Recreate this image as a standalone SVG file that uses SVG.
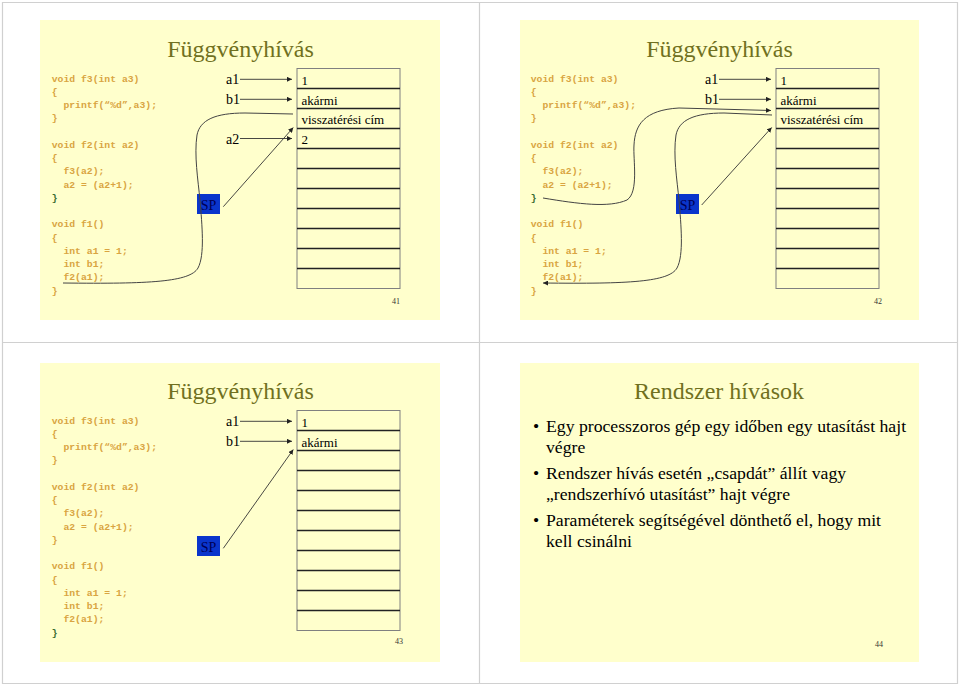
<svg xmlns="http://www.w3.org/2000/svg" width="960" height="684" viewBox="0 0 960 684">
<defs>
<style>
.panel{fill:#FFFFCC}
.frame{stroke:#D0D0D0;stroke-width:1.2;fill:none}
.title{font-size:24px;fill:#707020;text-anchor:middle}
.code{font-weight:bold;font-size:9.75px;fill:#D9A441}
.cg{fill:#3A6B2E}
.lbl{font-size:14px;fill:#000}
.cell{font-size:13px;fill:#000}
.outer{fill:none;stroke:#808080;stroke-width:1}
.row{stroke:#222;stroke-width:1.4}
.spbox{fill:#0A35CC}
.sptxt{font-size:14px;fill:#000055;text-anchor:middle}
.pg{font-size:8px;fill:#333;text-anchor:end}
.conn{fill:none;stroke:#333;stroke-width:0.9}
.curve{fill:none;stroke:#444;stroke-width:1}
.bul{font-size:17.7px;fill:#000}
</style>
<marker id="ah" viewBox="0 0 6 6" refX="6" refY="3" markerWidth="5" markerHeight="5" markerUnits="userSpaceOnUse" orient="auto">
<path d="M0,0 L6,3 L0,6 z" fill="#222"/>
</marker>
</defs>
<rect x="0" y="0" width="960" height="684" fill="#FFFFFF"/>
<g id="page-frame">
<path class="frame" d="M2.5,684 V2.5 H957.5 V684 M479.5,2.5 V684 M2.5,342.5 H957.5 M2.5,683.5 H957.5"/>
</g>

<g font-family="'Liberation Serif', 'Times New Roman', serif">
<!-- Slide 41 -->
<g id="slide41">
<rect class="panel" x="40" y="20" width="400" height="300"/>
<g id="s41-title"><text class="title" x="240.5" y="57">Függvényhívás</text></g>
<g id="s41-code" class="code" font-family="'Liberation Mono', 'Courier New', monospace">
<text x="51.7" y="81.5">void f3(int a3)</text>
<text x="51.7" y="94.75">{</text>
<text x="63.4" y="108">printf(“%d”,a3);</text>
<text x="51.7" y="121.25">}</text>
<text x="51.7" y="147.75">void f2(int a2)</text>
<text x="51.7" y="161">{</text>
<text x="63.4" y="174.25">f3(a2);</text>
<text x="63.4" y="187.5">a2 = (a2+1);</text>
<text x="51.7" y="200.75" class="cg">}</text>
<text x="51.7" y="227.25">void f1()</text>
<text x="51.7" y="240.5">{</text>
<text x="63.4" y="253.75">int a1 = 1;</text>
<text x="63.4" y="267">int b1;</text>
<text x="63.4" y="280.25">f2(a1);</text>
<text x="51.7" y="293.5">}</text>
</g>
<g id="s41-stack">
<rect class="outer" x="297" y="68.5" width="103" height="220"/>
<path class="row" d="M297,88.5H400M297,108.5H400M297,128.5H400M297,148.5H400M297,168.5H400M297,188.5H400M297,208.5H400M297,228.5H400M297,248.5H400M297,268.5H400"/>
<text class="cell" x="301.5" y="84.5">1</text>
<text class="cell" x="301.5" y="104.5">akármi</text>
<text class="cell" x="301.5" y="124.3">visszatérési cím</text>
<text class="cell" x="301.5" y="144.3">2</text>
</g>
<g id="s41-a1"><text class="lbl" x="226" y="84">a1</text></g>
<g id="s41-b1"><text class="lbl" x="226" y="104">b1</text></g>
<g id="s41-a2"><text class="lbl" x="226" y="143.5">a2</text></g>
<g id="s41-sp"><rect class="spbox" x="197" y="194" width="23" height="20"/><text class="sptxt" x="208.5" y="209.5">SP</text></g>
<text class="pg" x="400" y="304">41</text>
</g>

<!-- Slide 42 -->
<g id="slide42" transform="translate(479,0)">
<rect class="panel" x="41" y="20" width="399" height="300"/>
<g id="s42-title"><text class="title" x="240.5" y="57">Függvényhívás</text></g>
<g id="s42-code" class="code" font-family="'Liberation Mono', 'Courier New', monospace">
<text x="51.7" y="81.5">void f3(int a3)</text>
<text x="51.7" y="94.75">{</text>
<text x="63.4" y="108">printf(“%d”,a3);</text>
<text x="51.7" y="121.25">}</text>
<text x="51.7" y="147.75">void f2(int a2)</text>
<text x="51.7" y="161">{</text>
<text x="63.4" y="174.25">f3(a2);</text>
<text x="63.4" y="187.5">a2 = (a2+1);</text>
<text x="51.7" y="200.75" class="cg">}</text>
<text x="51.7" y="227.25">void f1()</text>
<text x="51.7" y="240.5">{</text>
<text x="63.4" y="253.75">int a1 = 1;</text>
<text x="63.4" y="267">int b1;</text>
<text x="63.4" y="280.25">f2(a1);</text>
<text x="51.7" y="293.5">}</text>
</g>
<g id="s42-stack">
<rect class="outer" x="297" y="68.5" width="103" height="220"/>
<path class="row" d="M297,88.5H400M297,108.5H400M297,128.5H400M297,148.5H400M297,168.5H400M297,188.5H400M297,208.5H400M297,228.5H400M297,248.5H400M297,268.5H400"/>
<text class="cell" x="301.5" y="84.5">1</text>
<text class="cell" x="301.5" y="104.5">akármi</text>
<text class="cell" x="301.5" y="124.3">visszatérési cím</text>
</g>
<g id="s42-a1"><text class="lbl" x="226" y="84">a1</text></g>
<g id="s42-b1"><text class="lbl" x="226" y="104">b1</text></g>
<g id="s42-sp"><rect class="spbox" x="197" y="194" width="23" height="20"/><text class="sptxt" x="208.5" y="209.5">SP</text></g>
<text class="pg" x="403" y="304">42</text>
</g>

<!-- Slide 43 -->
<g id="slide43" transform="translate(0,342)">
<rect class="panel" x="40" y="21" width="400" height="299"/>
<g id="s43-title"><text class="title" x="240.5" y="57">Függvényhívás</text></g>
<g id="s43-code" class="code" font-family="'Liberation Mono', 'Courier New', monospace">
<text x="51.7" y="81.5">void f3(int a3)</text>
<text x="51.7" y="94.75">{</text>
<text x="63.4" y="108">printf(“%d”,a3);</text>
<text x="51.7" y="121.25">}</text>
<text x="51.7" y="147.75">void f2(int a2)</text>
<text x="51.7" y="161">{</text>
<text x="63.4" y="174.25">f3(a2);</text>
<text x="63.4" y="187.5">a2 = (a2+1);</text>
<text x="51.7" y="200.75">}</text>
<text x="51.7" y="227.25">void f1()</text>
<text x="51.7" y="240.5">{</text>
<text x="63.4" y="253.75">int a1 = 1;</text>
<text x="63.4" y="267">int b1;</text>
<text x="63.4" y="280.25">f2(a1);</text>
<text x="51.7" y="293.5" class="cg">}</text>
</g>
<g id="s43-stack">
<rect class="outer" x="297" y="68.5" width="103" height="220"/>
<path class="row" d="M297,88.5H400M297,108.5H400M297,128.5H400M297,148.5H400M297,168.5H400M297,188.5H400M297,208.5H400M297,228.5H400M297,248.5H400M297,268.5H400"/>
<text class="cell" x="301.5" y="84.5">1</text>
<text class="cell" x="301.5" y="104.5">akármi</text>
</g>
<g id="s43-a1"><text class="lbl" x="226" y="84">a1</text></g>
<g id="s43-b1"><text class="lbl" x="226" y="104">b1</text></g>
<g id="s43-sp"><rect class="spbox" x="197" y="194" width="23" height="20"/><text class="sptxt" x="208.5" y="209.5">SP</text></g>
<text class="pg" x="403" y="302">43</text>
</g>

<!-- Slide 44 -->
<g id="slide44">
<rect class="panel" x="520" y="363" width="399" height="299"/>
<g id="s44-title"><text class="title" x="719" y="399" font-size="22">Rendszer hívások</text></g>
<g id="s44-bullets" class="bul">
<text x="533" y="432">•</text>
<text x="546" y="432">Egy processzoros gép egy időben egy utasítást hajt</text>
<text x="546" y="453">végre</text>
<text x="533" y="479">•</text>
<text x="546" y="479">Rendszer hívás esetén „csapdát” állít vagy</text>
<text x="546" y="500">„rendszerhívó utasítást” hajt végre</text>
<text x="533" y="526">•</text>
<text x="546" y="526">Paraméterek segítségével dönthető el, hogy mit</text>
<text x="546" y="547">kell csinálni</text>
</g>
<text class="pg" x="883" y="647">44</text>
</g>
</g>

<g id="connectors">
<!-- slide 41 -->
<line class="conn" x1="240" y1="79.3" x2="292" y2="79.3" marker-end="url(#ah)"/>
<line class="conn" x1="240" y1="99.3" x2="292" y2="99.3" marker-end="url(#ah)"/>
<line class="conn" x1="240" y1="138.5" x2="292" y2="138.5" marker-end="url(#ah)"/>
<line class="conn" x1="223.3" y1="206.7" x2="293.3" y2="127.5" marker-end="url(#ah)"/>
<path class="curve" d="M63,283 C150,284 190,282 198,268 C205,255 202,225 200,200 C198,180 194,155 197,135 C200,120 215,113 245,113 L293,114"/>
<!-- slide 42 -->
<g transform="translate(479,0)">
<line class="conn" x1="240" y1="79.3" x2="292" y2="79.3" marker-end="url(#ah)"/>
<line class="conn" x1="240" y1="99.3" x2="292" y2="99.3" marker-end="url(#ah)"/>
<line class="conn" x1="222.7" y1="205" x2="292.7" y2="127.5" marker-end="url(#ah)"/>
<path class="curve" d="M293,115 L245,113 C215,113 200,120 197,135 C194,155 198,180 200,200 C202,225 205,255 198,268 C190,282 150,284 64,283" marker-end="url(#ah)"/>
<path class="curve" d="M64,198 C100,204 130,208 148,200 C160,192 154,160 155,145 C156,125 165,110 200,108 L292,110.5" marker-end="url(#ah)"/>
</g>
<!-- slide 43 -->
<g transform="translate(0,342)">
<line class="conn" x1="240" y1="79.3" x2="292" y2="79.3" marker-end="url(#ah)"/>
<line class="conn" x1="240" y1="99.3" x2="292" y2="99.3" marker-end="url(#ah)"/>
<line class="conn" x1="223.3" y1="206.3" x2="293.3" y2="107.5" marker-end="url(#ah)"/>
</g>
</g>
</svg>
